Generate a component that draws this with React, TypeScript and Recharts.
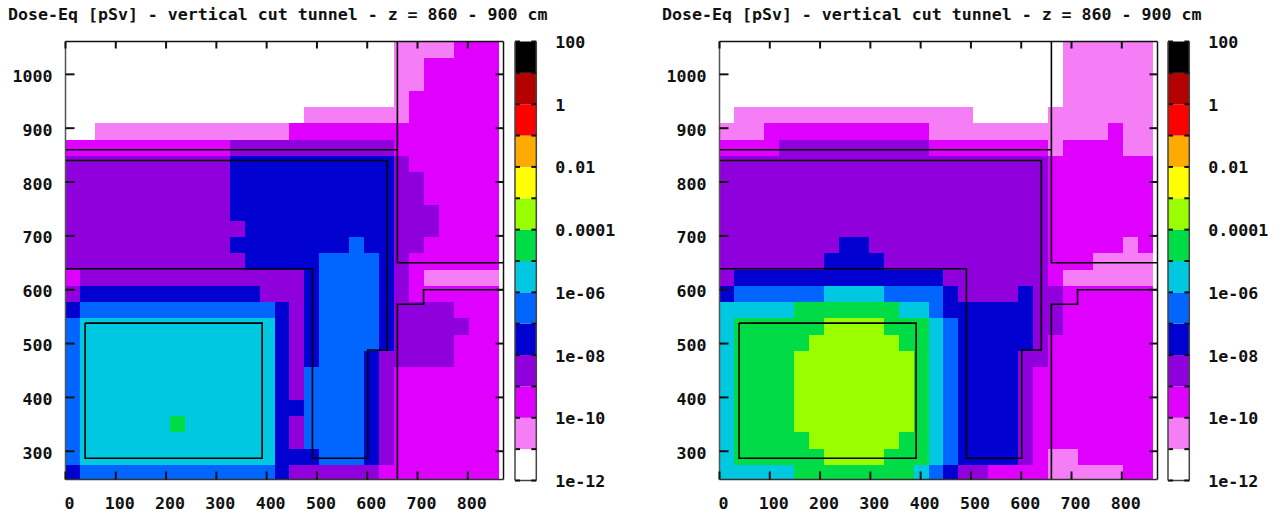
import React from 'react';
import { Bar, BarChart, Cell, Scatter, ScatterChart, XAxis, YAxis } from 'recharts';

const TITLE = 'Dose-Eq [pSv] - vertical cut tunnel - z = 860 - 900 cm';
const FONT = '"DejaVu Sans Mono", monospace';

const X_TICKS = [0, 100, 200, 300, 400, 500, 600, 700, 800];
const Y_TICKS = [300, 400, 500, 600, 700, 800, 900, 1000];
const X_DOMAIN = [0, 871];
const Y_DOMAIN = [247.5, 1061];

// scoring grid: 29 columns x 27 rows, listed from the top row down
const CELL_DX = 29.69;
const CELL_DY = 30.2;
const GRID_TOP = 1060;

// one colour per decade, 1e-12 upwards
const LEVEL_COLORS = [
  '#ffffff', '#f57df5', '#e000ff', '#9000dc', '#0000d0', '#0066ff', '#00c8e0',
  '#00dc46', '#99ff00', '#ffff00', '#ffaa00', '#ff0000', '#b30000', '#000000',
];
const SCALE_TICKS = [0, 1, 2, 3, 4, 5, 6, 7, 8, 9, 10, 11, 12, 13, 14];
const SCALE_LABELS: Record<number, string> = {
  0: '1e-12', 2: '1e-10', 4: '1e-08', 6: '1e-06', 8: '0.0001', 10: '0.01', 12: '1', 14: '100',
};

const LEFT_ROWS = [
  '00000000000000000000001111222',
  '00000000000000000000001122222',
  '00000000000000000000001122222',
  '00000000000000000000001222222',
  '00000000000000001111111222222',
  '00111111111111122222222222222',
  '22222222222333333333332222222',
  '33333333333444444444443222222',
  '33333333333444444444443322222',
  '33333333333444444444443322222',
  '33333333333444444444443332222',
  '33333333333344444444443332222',
  '33333333333444444445443322222',
  '33333333333344444555543222222',
  '23333333333333334555543211111',
  '34444444444443334555543222222',
  '45555555555555434555543333222',
  '56666666666666434555543333322',
  '56666666666666434555543333222',
  '56666666666666434555433333222',
  '56666666666666435555432222222',
  '56666666666666435555432222222',
  '56666666666666445555432222222',
  '56666667666666435555432222222',
  '56666666666666435555432222222',
  '56666666666666444555432222222',
  '45555555555555433333322222222',
];

const RIGHT_ROWS = [
  '00000000000000000000000111111',
  '00000000000000000000000111111',
  '00000000000000000000000111111',
  '00000000000000000000000111111',
  '01111111111111111000001111111',
  '11122222222222111111111111211',
  '22223333333333222222221222211',
  '33333333333333333333332222222',
  '33333333333333333333332222222',
  '33333333333333333333332222222',
  '33333333333333333333332222222',
  '33333333333333333333332222222',
  '33333333443333333333332222212',
  '33333334444333333333332221111',
  '34444444444444433333332111111',
  '45555556666555543333433222222',
  '66666777777766544444433222222',
  '67777778888777654444433222222',
  '67777788888877654444432222222',
  '67777888888887654444332222222',
  '67777888888887654444322222222',
  '67777888888887654444322222222',
  '67777888888887654444322222222',
  '67777888888887654444322222222',
  '67777788888877654444322222222',
  '67777778888777654444321122222',
  '66666777777776543322221111122',
];

// geometry outlines, same for both cuts
const WALL_TOP = [{ x: 0, y: 860 }, { x: 660, y: 860 }];
const TUNNEL = [
  { x: 0, y: 840 }, { x: 640, y: 840 }, { x: 640, y: 488 }, { x: 601, y: 488 },
  { x: 601, y: 287 }, { x: 491, y: 287 }, { x: 491, y: 639 }, { x: 0, y: 639 },
];
const SHAFT_UPPER = [{ x: 660, y: 1061 }, { x: 660, y: 650 }, { x: 871, y: 650 }];
const SHAFT_LOWER = [
  { x: 660, y: 247.5 }, { x: 660, y: 573 }, { x: 712, y: 573 }, { x: 712, y: 600 }, { x: 871, y: 600 },
];
const INNER_BOX = [
  { x: 39, y: 538 }, { x: 391, y: 538 }, { x: 391, y: 287 }, { x: 39, y: 287 }, { x: 39, y: 538 },
];
const OUTLINES = [WALL_TOP, TUNNEL, SHAFT_UPPER, SHAFT_LOWER, INNER_BOX];

const CHART_W = 520;
const CHART_H = 513;
const PLOT_LEFT = 65.5;
const PLOT_RIGHT = 503.5;
const PLOT_TOP = 41.5;
const PLOT_BOTTOM = 479.5;
const PLOT_MARGIN = { top: PLOT_TOP, right: CHART_W - PLOT_RIGHT, bottom: CHART_H - PLOT_BOTTOM, left: PLOT_LEFT };

const SCALE_W = 130;
const SCALE_LEFT = 5;
const SCALE_BAR_W = 21.3;
const SCALE_BOTTOM = 480.5;

const CELL_W = (CELL_DX * (PLOT_RIGHT - PLOT_LEFT)) / (X_DOMAIN[1] - X_DOMAIN[0]);
const CELL_H = (CELL_DY * (PLOT_BOTTOM - PLOT_TOP)) / (Y_DOMAIN[1] - Y_DOMAIN[0]);

const TICK_COLOR = '#111';
const TICK_WIDTH = 2;
const textStyle = { fontFamily: FONT, fontSize: 16.6, fontWeight: 700, fill: '#111' };
const layer = { position: 'absolute', left: 0, top: 0 } as const;

function toCells(rows: string[]) {
  const cells: { x: number; y: number; level: number }[] = [];
  rows.forEach((row, r) => {
    row.split('').forEach((ch, c) => {
      cells.push({
        x: (c + 0.5) * CELL_DX,
        y: GRID_TOP - (r + 0.5) * CELL_DY,
        level: Number(ch),
      });
    });
  });
  return cells;
}

function CellShape(props: any) {
  return (
    <rect
      x={props.cx - CELL_W / 2}
      y={props.cy - CELL_H / 2}
      width={CELL_W + 0.3}
      height={CELL_H + 0.3}
      fill={LEVEL_COLORS[props.payload.level]}
      shapeRendering="crispEdges"
    />
  );
}

const noShape = () => <g />;

function BottomTick({ x, y, payload }: any) {
  return (
    <g>
      <line x1={x} x2={x} y1={y} y2={y - 8} stroke={TICK_COLOR} strokeWidth={TICK_WIDTH} />
      <text x={x + 4} y={y + 29.5} textAnchor="middle" style={textStyle}>{payload.value}</text>
    </g>
  );
}

function TopTick({ x, y }: any) {
  return <line x1={x} x2={x} y1={y} y2={y + 7} stroke={TICK_COLOR} strokeWidth={TICK_WIDTH} />;
}

function LeftTick({ x, y, payload }: any) {
  return (
    <g>
      <line x1={x} x2={x + 9} y1={y} y2={y} stroke={TICK_COLOR} strokeWidth={TICK_WIDTH} />
      <text x={x - 13} y={y + 7.5} textAnchor="end" style={textStyle}>{payload.value}</text>
    </g>
  );
}

function RightTick({ x, y }: any) {
  return <line x1={x} x2={x - 8} y1={y} y2={y} stroke={TICK_COLOR} strokeWidth={TICK_WIDTH} />;
}

function ScaleTick({ x, y, payload }: any) {
  const label = SCALE_LABELS[payload.value];
  return (
    <g>
      <line x1={x - SCALE_BAR_W} x2={x - SCALE_BAR_W + 5} y1={y} y2={y} stroke={TICK_COLOR} strokeWidth={TICK_WIDTH} />
      <line x1={x - 5} x2={x} y1={y} y2={y} stroke={TICK_COLOR} strokeWidth={TICK_WIDTH} />
      {label && <text x={x + 19} y={y + 6.5} style={textStyle}>{label}</text>}
    </g>
  );
}

function DosePanel({ rows, left }: { rows: string[]; left: number }) {
  return (
    <div style={{ position: 'absolute', left, top: 0, width: CHART_W, height: CHART_H }}>
      <div style={layer}>
        <ScatterChart width={CHART_W} height={CHART_H} margin={PLOT_MARGIN}>
          <XAxis hide type="number" dataKey="x" domain={X_DOMAIN} allowDataOverflow />
          <YAxis hide type="number" dataKey="y" domain={Y_DOMAIN} allowDataOverflow />
          <Scatter data={toCells(rows)} dataKey="y" shape={CellShape} isAnimationActive={false} />
          {OUTLINES.map((points, i) => (
            <Scatter
              key={i}
              data={points}
              dataKey="y"
              line={{ stroke: '#000', strokeWidth: 1.6 }}
              shape={noShape}
              isAnimationActive={false}
            />
          ))}
        </ScatterChart>
      </div>
      {/* the axes go in charts of their own so that they stay on top of the cells */}
      <div style={layer}>
        <ScatterChart
          width={CHART_W}
          height={CHART_H}
          margin={{ top: PLOT_TOP, right: CHART_W - PLOT_RIGHT, bottom: 0, left: 0 }}
        >
          <XAxis
            type="number"
            dataKey="x"
            domain={X_DOMAIN}
            ticks={X_TICKS}
            interval={0}
            allowDataOverflow
            height={CHART_H - PLOT_BOTTOM}
            tickSize={0}
            tickMargin={0}
            tick={BottomTick}
            tickLine={false}
            axisLine={{ stroke: '#333', strokeWidth: 1.5 }}
          />
          <YAxis
            type="number"
            dataKey="y"
            domain={Y_DOMAIN}
            ticks={Y_TICKS}
            interval={0}
            allowDataOverflow
            width={PLOT_LEFT}
            tickSize={0}
            tickMargin={0}
            tick={LeftTick}
            tickLine={false}
            axisLine={{ stroke: '#555', strokeWidth: 1.5 }}
          />
          <Scatter data={WALL_TOP} dataKey="y" shape={noShape} isAnimationActive={false} />
        </ScatterChart>
      </div>
      <div style={layer}>
        <ScatterChart
          width={CHART_W}
          height={CHART_H}
          margin={{ top: 0, right: 0, bottom: CHART_H - PLOT_BOTTOM, left: PLOT_LEFT }}
        >
          <XAxis
            orientation="top"
            type="number"
            dataKey="x"
            domain={X_DOMAIN}
            ticks={X_TICKS}
            interval={0}
            allowDataOverflow
            height={PLOT_TOP}
            tickSize={0}
            tickMargin={0}
            tick={TopTick}
            tickLine={false}
            axisLine={{ stroke: '#111', strokeWidth: 1.5 }}
          />
          <YAxis
            orientation="right"
            type="number"
            dataKey="y"
            domain={Y_DOMAIN}
            ticks={Y_TICKS}
            interval={0}
            allowDataOverflow
            width={CHART_W - PLOT_RIGHT}
            tickSize={0}
            tickMargin={0}
            tick={RightTick}
            tickLine={false}
            axisLine={{ stroke: '#111', strokeWidth: 1.5 }}
          />
          <Scatter data={WALL_TOP} dataKey="y" shape={noShape} isAnimationActive={false} />
        </ScatterChart>
      </div>
    </div>
  );
}

const SCALE_ROW = [LEVEL_COLORS.reduce((row: any, _c, i) => ({ ...row, ['l' + i]: 1 }), { name: 'dose' })];

function ColorScale({ left }: { left: number }) {
  return (
    <div style={{ position: 'absolute', left, top: 0, width: SCALE_W, height: CHART_H }}>
      <div style={layer}>
        <BarChart
          width={SCALE_W}
          height={CHART_H}
          data={SCALE_ROW}
          barCategoryGap={0}
          margin={{
            top: PLOT_TOP,
            right: SCALE_W - SCALE_LEFT - SCALE_BAR_W,
            bottom: CHART_H - SCALE_BOTTOM,
            left: SCALE_LEFT,
          }}
        >
          <XAxis hide dataKey="name" />
          <YAxis hide type="number" domain={[0, 14]} />
          {LEVEL_COLORS.map((color, i) => (
            <Bar key={i} dataKey={'l' + i} stackId="scale" fill={color} isAnimationActive={false}>
              <Cell fill={color} />
            </Bar>
          ))}
        </BarChart>
      </div>
      <div style={layer}>
        <BarChart width={SCALE_W} height={CHART_H} data={SCALE_ROW} margin={{ top: PLOT_TOP, right: 0, bottom: 0, left: SCALE_LEFT }}>
          <XAxis
            dataKey="name"
            height={CHART_H - SCALE_BOTTOM}
            tick={false}
            tickLine={false}
            axisLine={{ stroke: '#444', strokeWidth: 1.5 }}
          />
          <YAxis
            orientation="right"
            type="number"
            domain={[0, 14]}
            ticks={SCALE_TICKS}
            interval={0}
            width={SCALE_W - SCALE_LEFT - SCALE_BAR_W}
            tickSize={0}
            tickMargin={0}
            tick={ScaleTick}
            tickLine={false}
            axisLine={{ stroke: '#444', strokeWidth: 1.5 }}
          />
          <Bar dataKey="l0" fill="none" isAnimationActive={false} />
        </BarChart>
      </div>
      <div style={layer}>
        <BarChart
          width={SCALE_W}
          height={CHART_H}
          data={SCALE_ROW}
          margin={{
            top: PLOT_TOP,
            right: SCALE_W - SCALE_LEFT - SCALE_BAR_W,
            bottom: CHART_H - SCALE_BOTTOM,
            left: 0,
          }}
        >
          <XAxis hide dataKey="name" />
          <YAxis
            type="number"
            domain={[0, 14]}
            width={SCALE_LEFT}
            tick={false}
            tickLine={false}
            axisLine={{ stroke: '#444', strokeWidth: 1.5 }}
          />
          <Bar dataKey="l0" fill="none" isAnimationActive={false} />
        </BarChart>
      </div>
    </div>
  );
}

function Title({ left }: { left: number }) {
  return (
    <div
      style={{
        position: 'absolute',
        left,
        top: 5,
        fontFamily: FONT,
        fontSize: 16.6,
        fontWeight: 700,
        lineHeight: '20px',
        color: '#111',
        whiteSpace: 'pre',
      }}
    >
      {TITLE}
    </div>
  );
}

export default function App() {
  return (
    <div style={{ position: 'absolute', left: 0, top: 0, width: 1284, height: 513, background: '#fff', overflow: 'hidden' }}>
      <Title left={8} />
      <Title left={662} />
      <DosePanel rows={LEFT_ROWS} left={0} />
      <DosePanel rows={RIGHT_ROWS} left={653.7} />
      <ColorScale left={510} />
      <ColorScale left={1163} />
    </div>
  );
}
